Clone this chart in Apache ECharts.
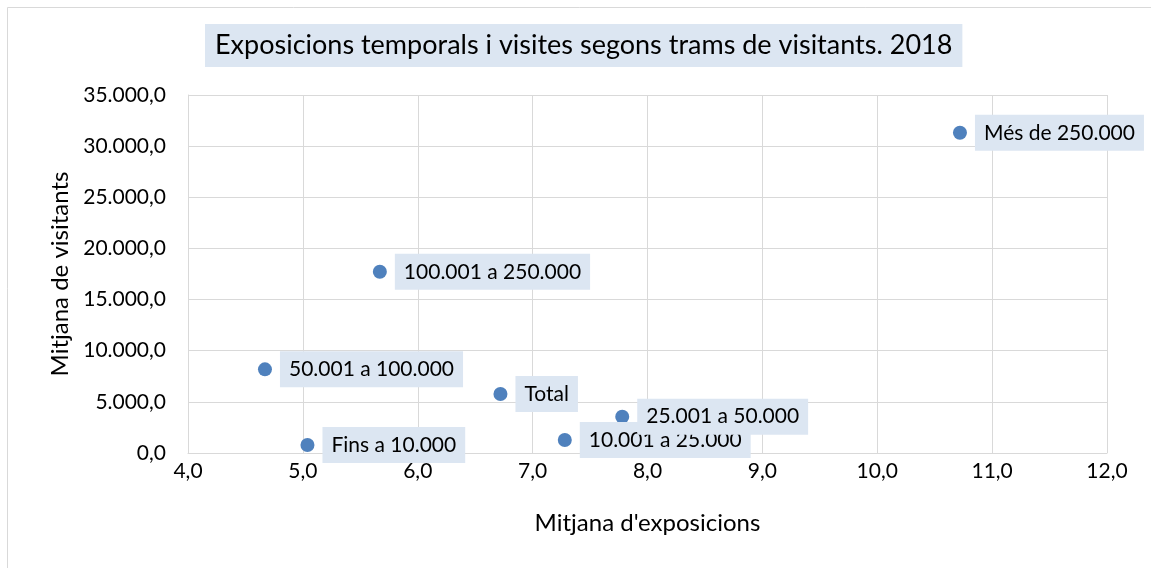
<!DOCTYPE html>
<html>
<head>
<meta charset="utf-8">
<script src="https://cdn.jsdelivr.net/npm/echarts@6/dist/echarts.min.js"></script>
<style>
html,body{margin:0;padding:0;background:#fff;}
#chart{width:1151px;height:568px;}
</style>
</head>
<body>
<div id="chart"></div>
<script>
// Data
const categories = ['Fins a 10.000', '10.001 a 25.000', '25.001 a 50.000', '50.001 a 100.000', '100.001 a 250.000', 'Més de 250.000', 'Total'];
const exposicions = [5.04, 7.28, 7.78, 4.67, 5.67, 10.72, 6.72];
const visitants = [780, 1270, 3550, 8180, 17720, 31310, 5770];
const xTicks = { min: 4, max: 12, interval: 1 };
const yTicks = { min: 0, max: 35000, interval: 5000 };

const FONT = 'Lato, "Open Sans", sans-serif';

function fmtCat(v) {
  const s = Math.abs(v).toFixed(1).split('.');
  const intPart = s[0].replace(/\B(?=(\d{3})+(?!\d))/g, '.');
  return (v < 0 ? '-' : '') + intPart + ',' + s[1];
}

const points = categories.map((c, i) => ({ name: c, value: [exposicions[i], visitants[i]] }));

const chart = echarts.init(document.getElementById('chart'), null, { renderer: 'canvas' });
chart.setOption({
  backgroundColor: '#ffffff',
  animation: false,
  title: {
    text: 'Exposicions temporals i visites segons trams de visitants. 2018',
    left: 205,
    top: 24,
    padding: [8, 10],
    backgroundColor: '#dce6f2',
    textStyle: { fontFamily: FONT, fontSize: 27, fontWeight: 'normal', color: '#000' }
  },
  graphic: [{
    type: 'rect',
    shape: { x: 7.5, y: 7.5, width: 1160, height: 580 },
    style: { fill: 'none', stroke: '#d9d9d9', lineWidth: 1 },
    silent: true,
    z: -10
  }],
  grid: { left: 188, right: 44, top: 95, bottom: 115, containLabel: false },
  xAxis: {
    type: 'value',
    min: xTicks.min, max: xTicks.max, interval: xTicks.interval,
    name: "Mitjana d'exposicions",
    nameLocation: 'middle',
    nameGap: 58,
    nameTextStyle: { fontFamily: FONT, fontSize: 24, color: '#000' },
    axisLine: { show: true, lineStyle: { color: '#d9d9d9', width: 1 } },
    axisTick: { show: false },
    splitLine: { show: true, lineStyle: { color: '#d9d9d9', width: 1 } },
    axisLabel: { fontFamily: FONT, fontSize: 21, color: '#000', margin: 8, formatter: fmtCat }
  },
  yAxis: {
    type: 'value',
    min: yTicks.min, max: yTicks.max, interval: yTicks.interval,
    name: 'Mitjana de visitants',
    nameLocation: 'middle',
    nameGap: 112,
    nameRotate: 90,
    nameTextStyle: { fontFamily: FONT, fontSize: 24, color: '#000' },
    axisLine: { show: true, lineStyle: { color: '#d9d9d9', width: 1 } },
    axisTick: { show: false },
    splitLine: { show: true, lineStyle: { color: '#d9d9d9', width: 1 } },
    axisLabel: { fontFamily: FONT, fontSize: 21, color: '#000', margin: 22, formatter: fmtCat }
  },
  series: [{
    type: 'scatter',
    symbol: 'circle',
    symbolSize: 14,
    itemStyle: { color: '#4f81bd', opacity: 1 },
    data: points,
    label: {
      show: true,
      position: 'right',
      distance: 8,
      formatter: p => p.name,
      backgroundColor: '#dce6f2',
      padding: [8, 9, 7, 9],
      fontFamily: FONT,
      fontSize: 21,
      color: '#000'
    },
    emphasis: { disabled: true }
  }]
});
</script>
</body>
</html>
